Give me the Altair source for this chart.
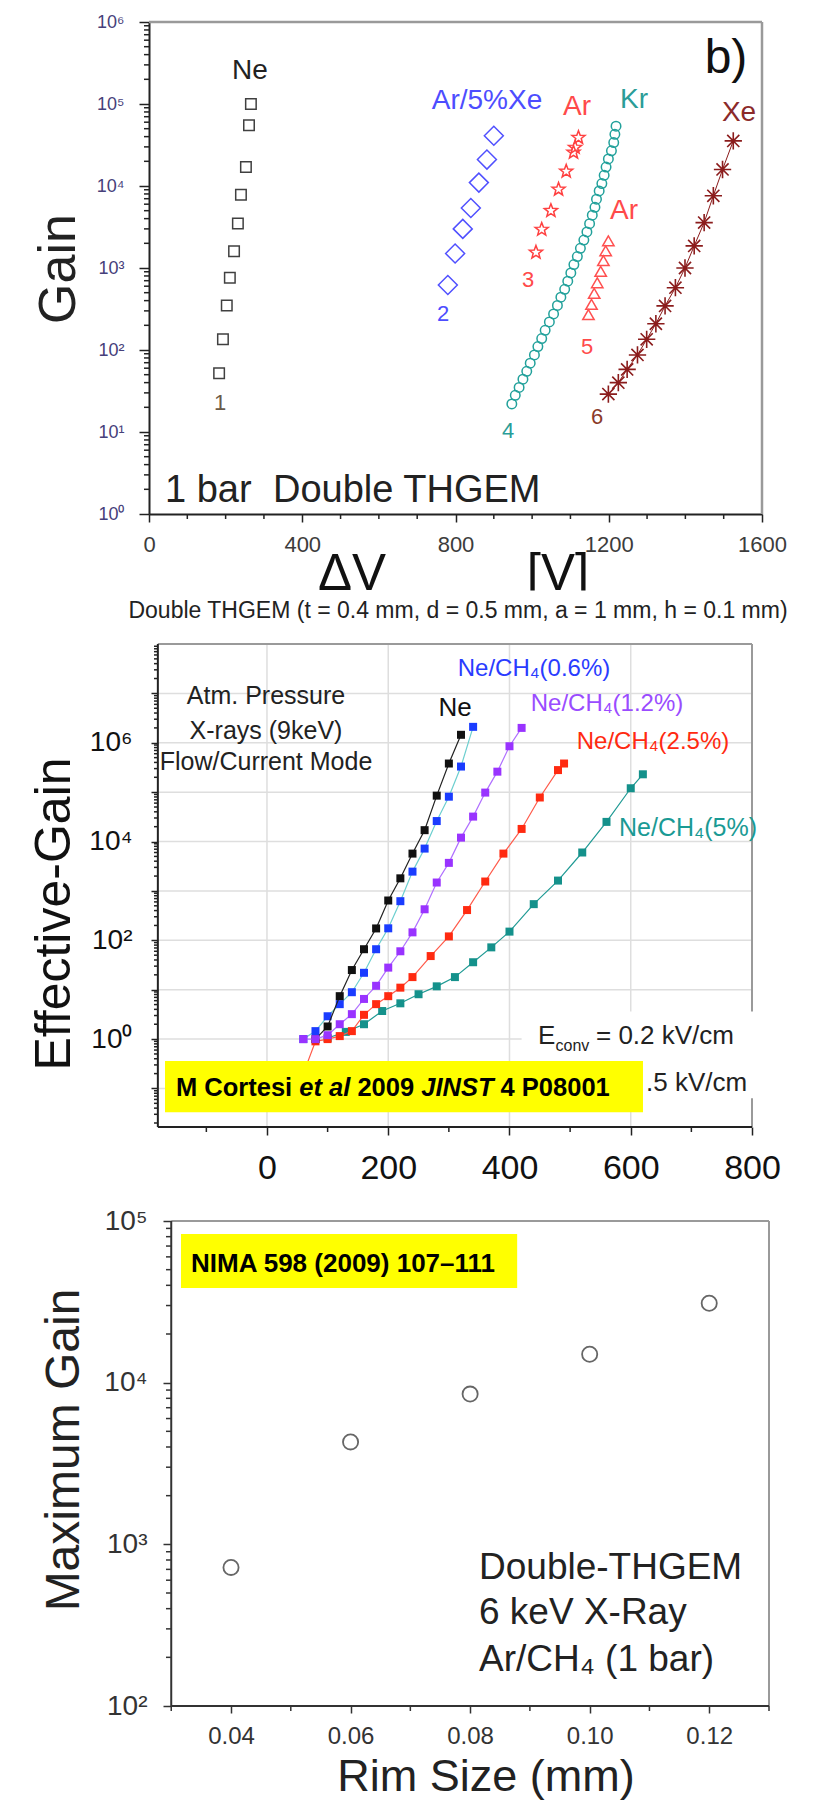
import altair as alt
import pandas as pd

FONT = "Liberation Sans"

# ================= Panel 1: Double THGEM, 1 bar — Gain vs dV =================
ne_dv = [183, 193, 203, 211, 222, 232, 240, 253, 261, 266]
ne_gain = [52, 135, 350, 760, 1600, 3500, 7800, 17000, 55000, 100000]
arxe_dv = [780, 799, 819, 840, 861, 882, 900]
arxe_gain = [620, 1500, 3000, 5400, 11000, 21000, 41000]
arstar_dv = [1010, 1025, 1049, 1069, 1089, 1108, 1112, 1121]
arstar_gain = [1550, 2950, 5000, 9100, 15100, 25700, 29500, 38900]
kr_dv = [947, 956, 966, 976, 986, 995, 1006, 1015, 1025, 1034, 1045, 1056, 1066, 1075,
         1085, 1093, 1101, 1109, 1118, 1126, 1135, 1143, 1150, 1157, 1164, 1168, 1175,
         1182, 1188, 1193, 1199, 1207, 1213, 1216, 1219]
kr_gain = [22, 28, 35, 44, 55, 69, 87, 110, 138, 174, 220, 275, 350, 440, 550, 690, 870,
           1100, 1380, 1740, 2190, 2750, 3470, 4400, 5500, 6900, 8700, 10700, 13500, 17000,
           21400, 26900, 33900, 42700, 53700]
artri_dv = [1147, 1155, 1162, 1170, 1179, 1186, 1192, 1199]
artri_gain = [270, 360, 490, 660, 910, 1230, 1620, 2140]
xe_dv = [1199, 1225, 1248, 1275, 1299, 1323, 1347, 1374, 1399, 1423, 1449, 1473, 1497, 1525]
xe_gain = [29, 40, 58, 87, 135, 209, 345, 575, 1000, 1860, 3580, 7600, 15900, 35500]

# ================= Panel 2: Effective gain vs dV, Ne/CH4 mixtures =================
ne_v = [80, 100, 120, 140, 160, 180, 200, 220, 240, 260, 280, 300, 320]
ne_g = [1.0, 1.8, 7.4, 25, 66, 174, 640, 1800, 5700, 17000, 85000, 380000, 1450000]
c06_v = [60, 80, 100, 120, 140, 160, 180, 200, 220, 240, 260, 280, 300, 320, 340]
c06_g = [1.0, 1.45, 2.9, 5.1, 8.9, 22, 66, 175, 620, 2460, 7200, 26000, 81000, 330000, 2100000]
c12_v = [60, 80, 100, 120, 140, 160, 180, 200, 220, 240, 260, 280, 300, 320, 340, 360, 380, 400, 420]
c12_g = [1.0, 1.0, 1.2, 2.0, 3.2, 6.5, 12, 28, 60, 145, 425, 1480, 3700, 12000, 32000, 98000,
         260000, 850000, 2000000]
c25_v = [60, 80, 100, 120, 140, 160, 180, 200, 220, 240, 270, 300, 330, 360, 390, 420, 450, 480, 490]
c25_g = [0.2, 0.9, 1.0, 1.15, 1.45, 3.1, 5.1, 7.4, 11, 18, 48, 120, 410, 1550, 5700, 18000,
         78000, 280000, 380000]
c5_v = [100, 130, 160, 190, 220, 250, 280, 310, 340, 370, 400, 440, 480, 520, 560, 600, 620]
c5_g = [1.05, 1.4, 2.0, 3.7, 5.3, 8.1, 11.7, 18, 36, 72, 150, 540, 1620, 6000, 25000, 120000, 230000]

# ================= Panel 3: Maximum gain vs rim size =================
rim_mm = [0.04, 0.06, 0.08, 0.10, 0.12]
max_gain = [720, 4300, 8500, 15000, 31000]

# ---------------- geometry ----------------
W1, H1 = 613, 492
W2, H2 = 603, 483
W3, H3 = 620, 485
Y2MIN = 10 ** -1.78

SUP = "['\u2070','\u00b9','\u00b2','\u00b3','\u2074','\u2075','\u2076','\u2077','\u2078']"
EXP = "round(log(datum.value)/LN10)"
STAR = ("M0,-1L0.247,-0.34L0.951,-0.309L0.399,0.13L0.588,0.809L0,0.42L-0.588,0.809"
        "L-0.399,0.13L-0.951,-0.309L-0.247,-0.34Z")
ASTER = "M-1,0L1,0M0,-1L0,1M-0.7,-0.7L0.7,0.7M-0.7,0.7L0.7,-0.7"


def one():
    return pd.DataFrame({"k": [0]})


def X(pn, f="x"):
    return alt.X(f + ":Q", scale=pn["sx"], axis=pn["ax"])


def Y(pn, f="y"):
    return alt.Y(f + ":Q", scale=pn["sy"], axis=pn["ay"])


def anchor(top, bottom):
    return alt.Chart(one()).mark_rule(color="white", strokeWidth=1).encode(
        x=alt.value(-148.5), y=alt.value(-top), y2=alt.value(bottom))


def segs(pn, rows, color, width):
    df = pd.DataFrame(rows, columns=["x", "x2", "y", "y2"])
    return alt.Chart(df).mark_rule(color=color, strokeWidth=width).encode(
        x=X(pn), x2=alt.X2("x2"), y=Y(pn), y2=alt.Y2("y2"))


def box(pn, x, x2, y, y2, color):
    df = pd.DataFrame({"x": [x], "x2": [x2], "y": [y], "y2": [y2]})
    return alt.Chart(df).mark_rect(color=color, opacity=1).encode(
        x=X(pn), x2=alt.X2("x2"), y=Y(pn), y2=alt.Y2("y2"))


def xtick(pn, vals, H, length, color="#222", width=1.5):
    df = pd.DataFrame({"x": vals})
    return alt.Chart(df).mark_rule(color=color, strokeWidth=width).encode(
        x=X(pn), y=alt.value(H), y2=alt.value(H + length))


def ytick(pn, vals, x0, length, color="#222", width=1.5):
    df = pd.DataFrame({"y": vals})
    return alt.Chart(df).mark_rule(color=color, strokeWidth=width).encode(
        y=Y(pn), x=alt.value(x0 - length), x2=alt.value(x0))


def txt(s, x, y, size, color="#222", align="center", baseline="middle", angle=0,
        weight="normal", style="normal"):
    return alt.Chart(one()).mark_text(
        text=s, font=FONT, fontSize=size, color=color, align=align, baseline=baseline,
        angle=angle, fontWeight=weight, fontStyle=style).encode(x=alt.value(x), y=alt.value(y))


def pts(pn, xs, ys, shape, color, size, filled=False, sw=1.5):
    df = pd.DataFrame({"x": xs, "y": ys})
    return alt.Chart(df).mark_point(shape=shape, size=size, filled=filled, color=color,
                                    strokeWidth=sw, opacity=1).encode(x=X(pn), y=Y(pn))


def line(pn, xs, ys, color, width=1.2):
    df = pd.DataFrame({"x": xs, "y": ys})
    return alt.Chart(df).mark_line(color=color, strokeWidth=width).encode(x=X(pn), y=Y(pn))


# ======================= Panel 1 =======================
P1 = dict(
    sx=alt.Scale(domain=[0, 1600], nice=False, zero=False),
    sy=alt.Scale(type="log", domain=[1, 1e6], nice=False),
    ax=alt.Axis(orient="bottom", values=[0, 400, 800, 1200, 1600], format="d", title=None,
                grid=False, labelFontSize=22, labelColor="#3c3c3c", tickSize=8, tickWidth=1.5,
                tickColor="#222", domainColor="#222", domainWidth=2, labelPadding=12,
                labelFlush=False, labelOverlap=False),
    ay=alt.Axis(orient="left", values=[1, 10, 100, 1000, 10000, 100000, 1000000], title=None,
                grid=False, labelExpr="'10' + " + SUP + "[" + EXP + "]", labelFontSize=18,
                labelColor="#46407a", tickSize=10, tickWidth=1.5, tickColor="#222",
                domainColor="#222", domainWidth=2, labelPadding=15, labelFlush=False,
                labelOverlap=False),
)

p1_layers = [
    anchor(21, 604),
    segs(P1, [[0, 1600, 1e6, 1e6], [1600, 1600, 1, 1e6]], "#9a9a9a", 2.5),
    xtick(P1, [v for v in range(100, 1600, 100) if v % 400], H1, 5),
    ytick(P1, [k * 10 ** d for d in range(0, 6) for k in range(2, 10)], 0, 5),
    pts(P1, ne_dv, ne_gain, "square", "#404040", 110),
    pts(P1, arxe_dv, arxe_gain, "diamond", "#5050ff", 360),
    pts(P1, arstar_dv, arstar_gain, STAR, "#ff4040", 190),
    pts(P1, kr_dv, kr_gain, "circle", "#22a19b", 90),
    pts(P1, artri_dv, artri_gain, "triangle-up", "#ff5050", 130),
    line(P1, xe_dv, xe_gain, "#8b1c1c", 1.0),
    pts(P1, xe_dv, xe_gain, ASTER, "#8b1c1c", 300, sw=1.6),
    txt("Ne", 101, 49, 28),
    txt("1", 71, 381, 22, "#6a5a48"),
    txt("Ar/5%Xe", 338, 79, 28, "#4d4dff"),
    txt("Ar", 428, 85, 28, "#ff4a4a"),
    txt("Kr", 485, 78, 28, "#2a9d98"),
    txt("Xe", 590, 91, 28, "#8b2a2a"),
    txt("b)", 577, 51, 48, "#111", baseline="alphabetic"),
    txt("Ar", 475, 189, 28, "#ff4a4a"),
    txt("3", 379, 258, 22, "#ff4a4a"),
    txt("2", 294, 292, 22, "#4d4dff"),
    txt("4", 359, 409, 22, "#2a9d98"),
    txt("5", 438, 325, 22, "#ff4a4a"),
    txt("6", 448, 395, 22, "#8b3a2a"),
    txt("1 bar", 16, 480, 38, align="left", baseline="alphabetic"),
    txt("Double THGEM", 124, 480, 38, align="left", baseline="alphabetic"),
    txt("Gain", -74, 247, 52, angle=270, baseline="alphabetic"),
    txt("\u0394V", 203, 568, 51, "#111", baseline="alphabetic"),
    txt("[V]", 409, 568, 51, "#111", baseline="alphabetic"),
    alt.Chart(one()).mark_rect(color="white").encode(
        x=alt.value(150), x2=alt.value(460), y=alt.value(568.5), y2=alt.value(583)),
    txt("Double THGEM (t = 0.4 mm, d = 0.5 mm, a = 1 mm, h = 0.1 mm)", 309, 589, 23),
]
p1 = alt.layer(*p1_layers).properties(width=W1, height=H1)

# ======================= Panel 2 =======================
P2 = dict(
    sx=alt.Scale(domain=[-194.6, 800], nice=False, zero=False),
    sy=alt.Scale(type="log", domain=[Y2MIN, 1e8], nice=False),
    ax=alt.Axis(orient="bottom", values=[0, 200, 400, 600, 800], title=None, grid=False,
                domain=False, labelFontSize=34, labelColor="#111", tickSize=8, tickWidth=1.5,
                tickColor="#222", labelPadding=16, labelFlush=False, labelOverlap=False),
    ay=alt.Axis(orient="left", values=[10.0 ** k for k in range(-1, 8)], title=None, grid=False,
                domain=False, offset=-9,
                labelExpr="(" + EXP + " >= 0 && " + EXP + " % 2 == 0) ? '10' + " + SUP
                          + "[" + EXP + "] : ''",
                labelFontSize=28, labelColor="#111", tickSize=7, tickWidth=1.5,
                tickColor="#222", labelPadding=19, labelFlush=False, labelOverlap=False),
)

grid2 = [[v, v, Y2MIN, 1e8] for v in [0, 200, 400, 600]] + \
        [[-180, 800, 10.0 ** k, 10.0 ** k] for k in range(-1, 8)]
minor2 = [k * 10.0 ** d for d in range(-2, 8) for k in range(2, 10) if Y2MIN <= k * 10.0 ** d <= 1e8]

p2_layers = [
    anchor(16, 548),
    segs(P2, grid2, "#dedede", 1.5),
    segs(P2, [[-180, 800, 1e8, 1e8], [800, 800, Y2MIN, 1e8]], "#9a9a9a", 2),
    line(P2, c5_v, c5_g, "#1f9a94"),
    pts(P2, c5_v, c5_g, "square", "#14918b", 64, filled=True),
    line(P2, c25_v, c25_g, "#ff5a4a"),
    pts(P2, c25_v, c25_g, "square", "#ff2a10", 64, filled=True),
    line(P2, c06_v, c06_g, "#6ccfcf"),
    pts(P2, c06_v, c06_g, "square", "#1a3cff", 64, filled=True),
    line(P2, ne_v, ne_g, "#222"),
    pts(P2, ne_v, ne_g, "square", "#111", 64, filled=True),
    line(P2, c12_v, c12_g, "#b070ff"),
    pts(P2, c12_v, c12_g, "square", "#9933ff", 64, filled=True),
    box(P2, 420, 830, 10 ** 0.56, 10 ** -1.2, "white"),
    segs(P2, [[-180, -180, Y2MIN, 1e8], [-180, 800, Y2MIN, Y2MIN]], "#222", 2),
    xtick(P2, [-100, 100, 300, 500, 700], H2, 5),
    ytick(P2, minor2, 9, 4),
    txt("E", 389, 400, 26, align="left", baseline="alphabetic"),
    txt("conv", 406.5, 407, 16, align="left", baseline="alphabetic"),
    txt("= 0.2 kV/cm", 447, 400, 26, align="left", baseline="alphabetic"),
    txt(".5 kV/cm", 497, 447, 26, align="left", baseline="alphabetic"),
    box(P2, -168.2, 620.2, 0.3584, 0.0332, "#ffff00"),
    txt("M Cortesi", 27, 452, 25.5, "#000", align="left", baseline="alphabetic", weight="bold"),
    txt("et al", 150.3, 452, 25.5, "#000", align="left", baseline="alphabetic", weight="bold",
        style="italic"),
    txt("2009", 208.4, 452, 25.5, "#000", align="left", baseline="alphabetic", weight="bold"),
    txt("JINST", 272.2, 452, 25.5, "#000", align="left", baseline="alphabetic", weight="bold",
        style="italic"),
    txt("4 P08001", 351.6, 452, 25.5, "#000", align="left", baseline="alphabetic", weight="bold"),
    txt("Atm. Pressure", 117, 52, 25),
    txt("X-rays (9keV)", 117, 87, 25),
    txt("Flow/Current Mode", 117, 118, 25),
    txt("Ne", 306, 64, 26, "#111"),
    txt("Ne/CH\u2084(0.6%)", 385, 25, 24, "#2a3cff"),
    txt("Ne/CH\u2084(1.2%)", 458, 60, 24, "#9a4cff"),
    txt("Ne/CH\u2084(2.5%)", 504, 98, 24, "#ff2a10"),
    txt("Ne/CH\u2084(5%)", 539, 184, 25, "#1a9a94"),
    txt("Effective-Gain", -79, 270, 50, "#111", angle=270, baseline="alphabetic"),
]
p2 = alt.layer(*p2_layers).properties(width=W2, height=H2)

# ======================= Panel 3 =======================
P3 = dict(
    sx=alt.Scale(domain=[0.02628, 0.13], nice=False, zero=False),
    sy=alt.Scale(type="log", domain=[100, 1e5], nice=False),
    ax=alt.Axis(orient="bottom", values=[0.04, 0.06, 0.08, 0.1, 0.12], format=".2f", title=None,
                grid=False, domain=False, labelFontSize=24, labelColor="#333", tickSize=7,
                tickWidth=1.5, tickColor="#333", labelPadding=11, labelFlush=False,
                labelOverlap=False),
    ay=alt.Axis(orient="left", values=[100, 1000, 10000, 100000], title=None, grid=False,
                domain=False, offset=-22, labelExpr="'10' + " + SUP + "[" + EXP + "]",
                labelFontSize=28, labelColor="#333", tickSize=8, tickWidth=1.5,
                tickColor="#333", labelPadding=16, labelFlush=False, labelOverlap=False),
)

p3_layers = [
    anchor(27, 578),
    segs(P3, [[0.03, 0.13, 1e5, 1e5], [0.13, 0.13, 100, 1e5]], "#9a9a9a", 2),
    segs(P3, [[0.03, 0.03, 100, 1e5], [0.03, 0.13, 100, 100]], "#333", 2),
    xtick(P3, [0.03, 0.05, 0.07, 0.09, 0.11, 0.13], H3, 5, "#333"),
    ytick(P3, [k * 10 ** d for d in range(2, 5) for k in range(2, 10)], 22, 5, "#333"),
    pts(P3, rim_mm, max_gain, "circle", "#666", 230, sw=1.8),
    box(P3, 0.03163, 0.08787, 38500, 83000, "#ffff00"),
    txt("NIMA 598 (2009) 107\u2013111", 42, 51, 26, "#000", align="left",
        baseline="alphabetic", weight="bold"),
    txt("Double-THGEM", 330, 358, 37, "#222", align="left", baseline="alphabetic"),
    txt("6 keV X-Ray", 330, 403, 37, "#222", align="left", baseline="alphabetic"),
    txt("Ar/CH\u2084 (1 bar)", 330, 450, 37, "#222", align="left", baseline="alphabetic"),
    txt("Maximum Gain", -70, 229, 48, "#222", angle=270, baseline="alphabetic"),
    txt("Rim Size (mm)", 337, 570, 45, "#222", baseline="alphabetic"),
]
p3 = alt.layer(*p3_layers).properties(width=W3, height=H3)

chart = (
    alt.vconcat(p1, p2, p3, spacing=0)
    .properties(padding=0, background="white")
    .configure(font=FONT)
    .configure_view(strokeWidth=0)
    .configure_axis(labelFont=FONT)
)
chart.save("out.html", embed_options={"renderer": "svg", "actions": False})
